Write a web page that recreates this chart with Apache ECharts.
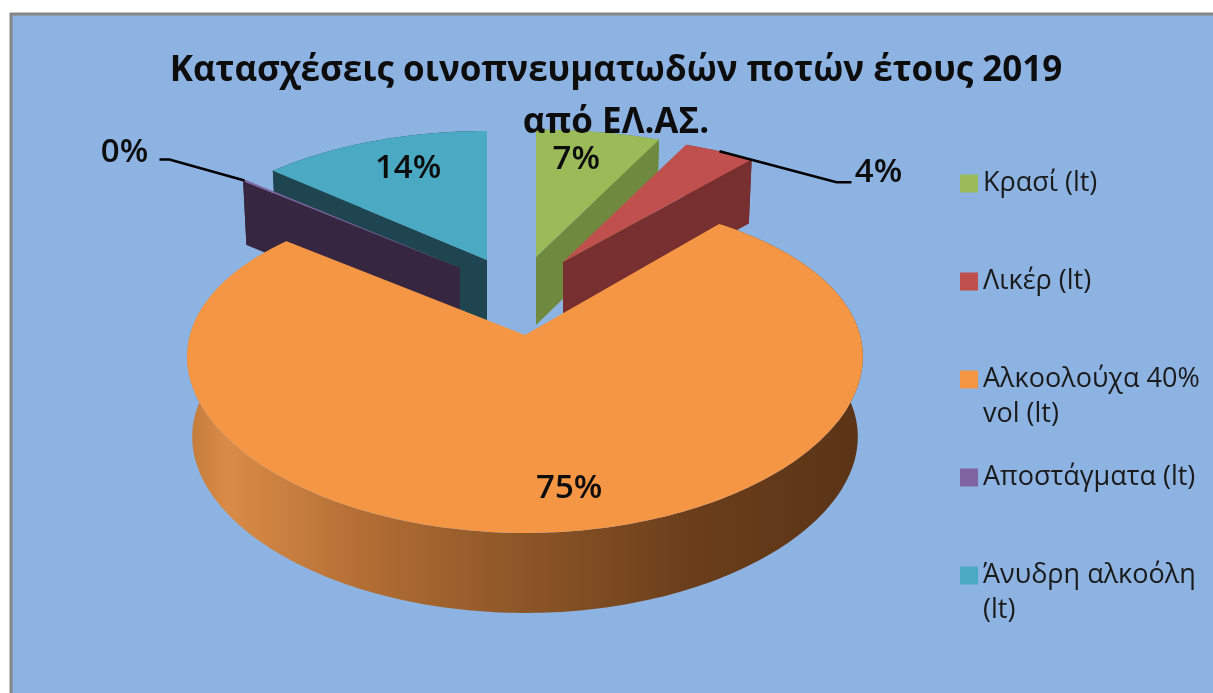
<!DOCTYPE html>
<html><head><meta charset="utf-8">
<style>html,body{margin:0;padding:0;background:#fff}#c{width:1213px;height:693px}</style>
<script src="https://cdn.jsdelivr.net/npm/echarts@6/dist/echarts.min.js"></script>
</head><body><div id="c"></div>
<script>
const titleText = 'Κατασχέσεις οινοπνευματωδών ποτών έτους 2019\nαπό ΕΛ.ΑΣ.';
const categories = ['Κρασί (lt)','Λικέρ (lt)','Αλκοολούχα 40%\nvol (lt)','Αποστάγματα (lt)','Άνυδρη αλκοόλη\n(lt)'];
const values = [7.0, 4.0, 75.0, 0.2, 13.8];
const colors = ['#9bbb59','#c0504d','#f59645','#8064a2','#4aa9c3'];
const sideColors = ['#6f8a3f','#772f2f',null,'#37263f','#1f4650'];

const layouts = [
 {ax:536,ay:257,rx:345,ry:156,kx:.215,ky:.225,depth:68,cut:'end',order:1,lr:.74,ldx:-8,ldy:0},
 {ax:563,ay:262,rx:345,ry:156,kx:.215,ky:.225,depth:64,cut:'end',order:4,leader:[[117,31],[132,31]],lab:[159,21]},
 {ax:525,ay:335,rx:335,ry:163.5,kx:.13,ky:.174,depth:80,cut:null,order:5,lr:.8,ldx:16,ldy:2},
 {ax:460,ay:268,rx:320,ry:156,kx:.215,ky:.225,depth:64,cut:'start',order:3,leader:[[-75,-21],[-85,-21]],lab:[-120,-28]},
 {ax:487,ay:260,rx:320,ry:158,kx:.215,ky:.225,depth:64,cut:'start',order:2,lr:.74,ldx:8,ldy:1}
];
const total = values.reduce((a,b)=>a+b,0);
const labelFont = '600 33px "Open Sans"';

function pt(g, fr, deg){
  const r = deg*Math.PI/180, u = fr*Math.sin(r), v = fr*Math.cos(r);
  return [g.ax + g.rx*u/(1+g.kx*v), g.ay - g.ry*v/(1+g.ky*v)];
}
function drop(g, p){ return [g.ax + (p[0]-g.ax)*.985, p[1]+g.depth]; }

function makeRender(i){
  return function(params, api){
    const val = api.value(0), g = layouts[i];
    const before = values.slice(0,i).reduce((a,b)=>a+b,0);
    const a0 = before/total*360, a1 = (before+val)/total*360;
    const arc = [];
    const n = Math.max(2, Math.ceil(a1-a0));
    for(let k=0;k<=n;k++) arc.push(pt(g,1,a0+(a1-a0)*k/n));
    const apex = [g.ax,g.ay], base = g.order*10, children = [];
    const rimPts = arc.concat(arc.slice().reverse().map(p=>drop(g,p)));
    const rimFill = sideColors[i] || new echarts.graphic.LinearGradient(187,0,862,0,[
      {offset:0,color:'#c27a3b'},{offset:.06,color:'#d98c47'},{offset:.25,color:'#b56f35'},
      {offset:.5,color:'#8c5527'},{offset:.75,color:'#6a3e1b'},{offset:1,color:'#5a3416'}],true);
    children.push({type:'polygon',z2:base,shape:{points:rimPts},style:{fill:rimFill}});
    if(g.cut){
      const e = g.cut==='end' ? arc[arc.length-1] : arc[0];
      children.push({type:'polygon',z2:base+1,shape:{points:[apex,e,drop(g,e),drop(g,apex)]},style:{fill:sideColors[i]}});
    }
    children.push({type:'polygon',z2:base+2,shape:{points:[apex].concat(arc)},style:{fill:colors[i]}});
    const mid = (a0+a1)/2, label = Math.round(val/total*100)+'%';
    let lx, ly;
    if(g.leader){
      const s = pt(g,1,mid);
      const pts = [s].concat(g.leader.map(d=>[s[0]+d[0],s[1]+d[1]]));
      children.push({type:'polyline',z2:100,shape:{points:pts},style:{fill:'none',stroke:'#000',lineWidth:2.5}});
      lx = s[0]+g.lab[0]; ly = s[1]+g.lab[1];
    } else {
      const s = pt(g,g.lr,mid);
      lx = s[0]+g.ldx; ly = s[1]+g.ldy;
    }
    children.push({type:'text',z2:101,x:lx,y:ly,style:{text:label,font:labelFont,fill:'#0d0d0d',align:'center',verticalAlign:'middle'}});
    return {type:'group',children};
  };
}

const chart = echarts.init(document.getElementById('c'),null,{renderer:'canvas'});
chart.setOption({
  animation:false,
  backgroundColor:'#ffffff',
  graphic:[{type:'rect',z:-10,silent:true,shape:{x:11,y:14,width:1300,height:800},style:{fill:'#8db3e2',stroke:'#868686',lineWidth:3}}],
  title:{text:titleText,left:611,top:40,textAlign:'center',textStyle:{fontFamily:'"Open Sans"',fontWeight:700,fontSize:35,lineHeight:52,color:'#0d0d0d'}},
  legend:{
    orient:'vertical',left:955,top:126,itemGap:-7,icon:'rect',itemWidth:18,itemHeight:18,
    data:categories,
    formatter:n=>'\n'+n+(n.includes('\n')?'':'\n'),
    textStyle:{fontFamily:'"Open Sans"',fontSize:27,lineHeight:35,color:'#1a1a1a'},
    selectedMode:false
  },
  series:categories.map((name,i)=>({
    type:'custom',name,coordinateSystem:'none',
    itemStyle:{color:colors[i]},
    data:[[values[i]]],
    renderItem:makeRender(i)
  }))
});
</script></body></html>
